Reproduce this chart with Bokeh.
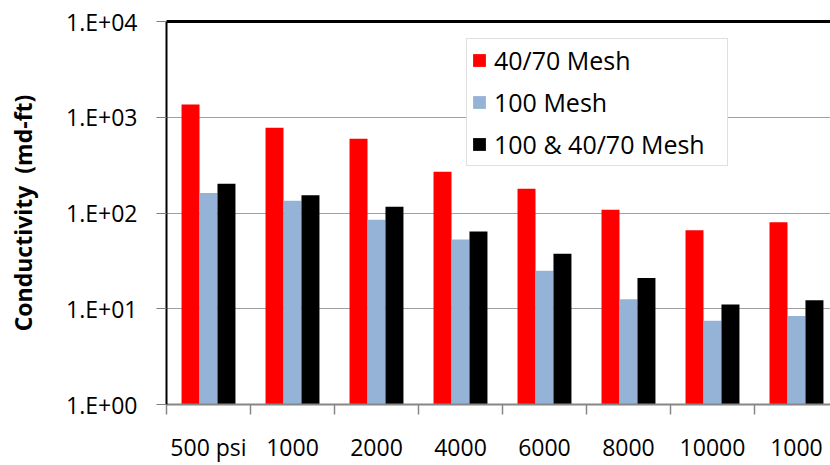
from bokeh.plotting import figure
from bokeh.models import (Range1d, FixedTicker, CustomJSTickFormatter, ColumnDataSource,
                          Legend, LegendItem, LinearAxis)
from bokeh.embed import file_html
from bokeh.resources import INLINE

# ---- data ----
categories = ["500 psi", "1000", "2000", "4000", "6000", "8000", "10000", "1000"]
series_names = ["40/70 Mesh", "100 Mesh", "100 & 40/70 Mesh"]
mesh_40_70 = [1360, 776, 596, 269, 179, 108, 66, 80]
mesh_100 = [162, 134, 85, 53, 25, 12.6, 7.5, 8.4]
mesh_mix = [202, 153, 116, 64, 37.5, 21, 11.1, 12.3]
y_tick_values = [1, 10, 100, 1000, 10000]
y_tick_labels = ["1.E+00", "1.E+01", "1.E+02", "1.E+03", "1.E+04"]
colors = ["#FF0000", "#95B3D7", "#000000"]

FONT = "Open Sans"
centers = [i + 0.5 for i in range(len(categories))]
bw = 0.214
offsets = [-bw, 0.0, bw]

p = figure(width=830, height=465, x_range=Range1d(0, 7.905), y_range=Range1d(1, 10000),
           y_axis_type="log", output_backend="svg", toolbar_location=None,
           min_border_left=166, min_border_right=0, min_border_top=21, min_border_bottom=61)
p.outline_line_color = None
p.background_fill_color = "white"
p.border_fill_color = "white"

# grid
p.xgrid.grid_line_color = None
p.ygrid.grid_line_color = "#A0A0A0"
p.ygrid.grid_line_width = 1
p.ygrid.ticker = FixedTicker(ticks=y_tick_values)

# y axis
ya = p.yaxis[0]
ya.ticker = FixedTicker(ticks=y_tick_values, minor_ticks=[])
ya.formatter = CustomJSTickFormatter(args=dict(vals=y_tick_values, labs=y_tick_labels),
                                     code="const i = vals.indexOf(Math.round(tick)); return i >= 0 ? labs[i] : '';")
ya.axis_line_color = "black"
ya.axis_line_width = 2
ya.major_tick_out = 10
ya.major_tick_in = 0
ya.major_tick_line_color = "#808080"
ya.minor_tick_line_color = None
ya.major_label_standoff = 19
ya.major_label_text_font = FONT
ya.major_label_text_font_size = "23px"
ya.major_label_text_color = "black"
ya.axis_label = "Conductivity \u00a0(md-ft)"
ya.axis_label_text_font = FONT
ya.axis_label_text_font_style = "bold"
ya.axis_label_text_font_size = "23px"
ya.axis_label_text_color = "black"
ya.axis_label_standoff = 24

# x axis (tick marks at category boundaries, labels at category centres)
xa = p.xaxis[0]
xa.ticker = FixedTicker(ticks=centers, minor_ticks=list(range(len(categories) + 1)))
xa.formatter = CustomJSTickFormatter(args=dict(cats=categories),
                                     code="const i = Math.floor(tick); return (i >= 0 && i < cats.length) ? cats[i] : '';")
xa.axis_line_color = "#868686"
xa.axis_line_width = 2
xa.major_tick_out = 0
xa.major_tick_in = 0
xa.major_tick_line_color = None
xa.minor_tick_out = 10
xa.minor_tick_in = 0
xa.minor_tick_line_color = "#868686"
xa.minor_tick_line_width = 1.5
xa.major_label_standoff = 16
xa.major_label_text_font = FONT
xa.major_label_text_font_size = "23px"
xa.major_label_text_color = "black"

# top border
top = LinearAxis(ticker=FixedTicker(ticks=[]), axis_line_color="black", axis_line_width=3,
                 major_tick_line_color=None, minor_tick_line_color=None,
                 major_label_standoff=0)
p.add_layout(top, "above")

# bars
renderers = []
for vals, off, col in zip([mesh_40_70, mesh_100, mesh_mix], offsets, colors):
    src = ColumnDataSource(dict(x=[c + off for c in centers], top=vals, bottom=[1] * len(vals)))
    r = p.vbar(x="x", top="top", bottom="bottom", width=bw, source=src,
               fill_color=col, line_color=None)
    renderers.append(r)

legend = Legend(items=[LegendItem(label=n, renderers=[r]) for n, r in zip(series_names, renderers)],
                location=(300, 238), orientation="vertical",
                label_text_font=FONT, label_text_font_size="25px", label_text_color="black",
                glyph_width=16, glyph_height=16, label_standoff=7, label_width=229,
                spacing=8, padding=4,
                border_line_color="#BFBFBF", border_line_width=1.5,
                background_fill_color="white", background_fill_alpha=1.0)
p.add_layout(legend, "center")

open("out.html", "w").write(file_html(p, INLINE))
